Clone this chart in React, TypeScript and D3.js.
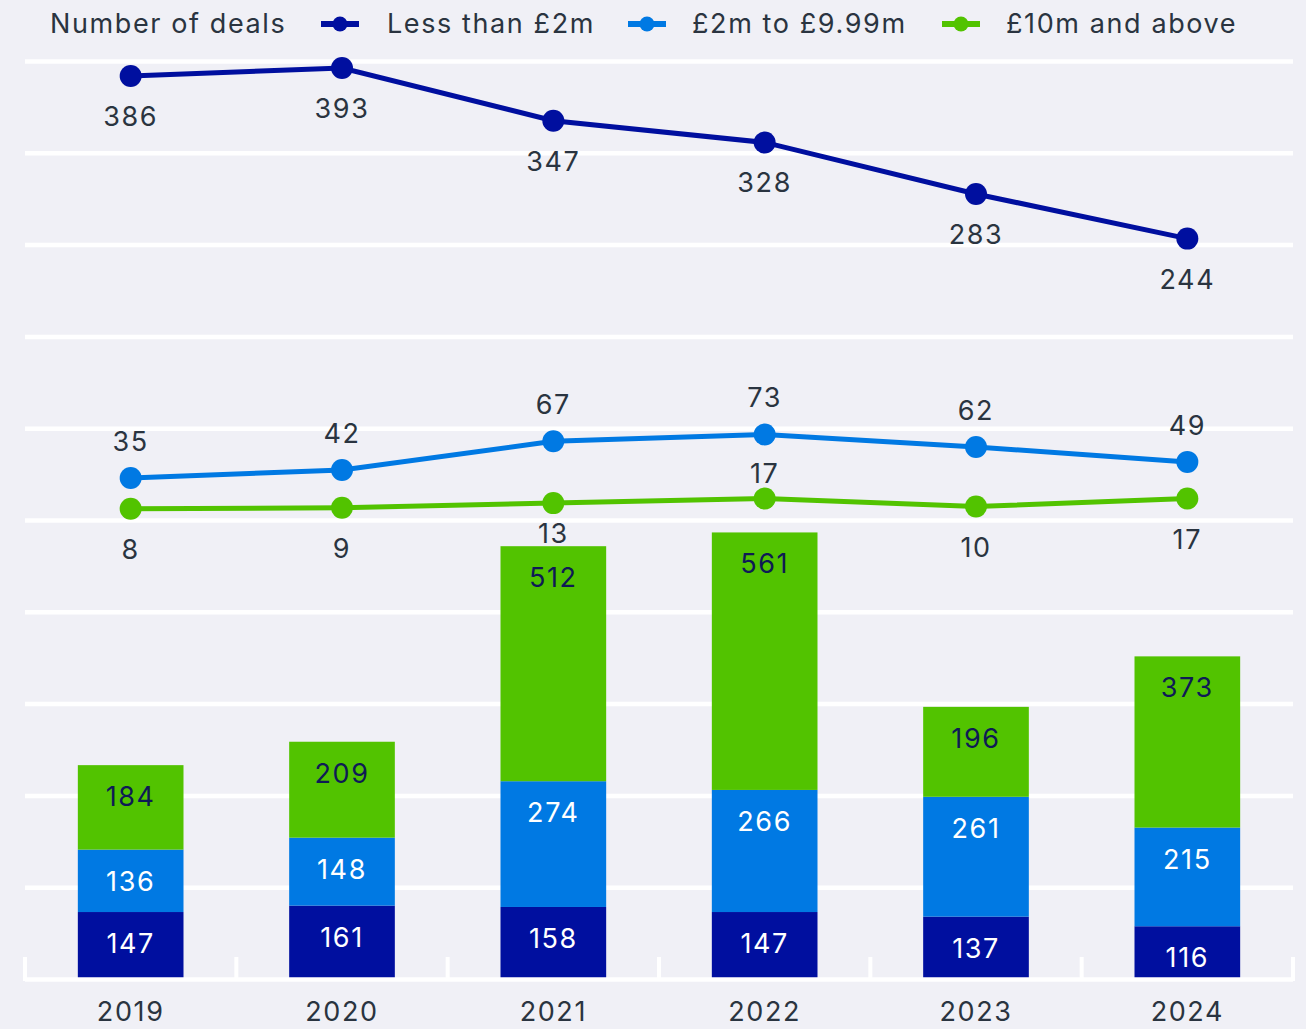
import { useEffect, useRef } from "react";
import * as d3 from "d3";

const years = ["2019", "2020", "2021", "2022", "2023", "2024"];

// number of deals (lines)
const dealsSmall = [386, 393, 347, 328, 283, 244];
const dealsMid = [35, 42, 67, 73, 62, 49];
const dealsLarge = [8, 9, 13, 17, 10, 17];

// value of deals (stacked bars)
const valueSmall = [147, 161, 158, 147, 137, 116];
const valueMid = [136, 148, 274, 266, 261, 215];
const valueLarge = [184, 209, 512, 561, 196, 373];

const seriesNames = ["Less than £2m", "£2m to £9.99m", "£10m and above"];
const legendTitle = "Number of deals";

const barTicks = [200, 400, 600, 800, 1000, 1200, 1400, 1600, 1800, 2000];

const NAVY = "#000f9f";
const BLUE = "#0079e3";
const GREEN = "#52c300";
const BG = "#f0f0f6";
const TEXT = "#2a3440";
const FONT = "Inter, 'Noto Sans', sans-serif";
const FSIZE = 27;
const SPACING = 1.6;

const App = () => {
  const svgRef = useRef<SVGSVGElement | null>(null);

  useEffect(() => {
    document.body.style.margin = "0";
    const width = 1306;
    const height = 1029;
    const svg = d3.select(svgRef.current);
    svg.selectAll("*").remove();
    svg.attr("width", width).attr("height", height);

    svg.append("rect").attr("width", width).attr("height", height).attr("fill", BG);

    const x = d3.scaleBand<string>()
      .domain(years)
      .range([25, 1293])
      .paddingInner(0.5)
      .paddingOuter(0.25);

    const yBar = d3.scaleLinear().domain([0, 2000]).range([979.5, 61.5]);
    const yLine = d3.scaleLinear().domain([0, 400]).range([518, 60]);

    const styleText = (sel: any) =>
      sel
        .attr("font-family", FONT)
        .attr("font-size", FSIZE)
        .attr("letter-spacing", SPACING);

    // gridlines
    svg.append("g")
      .selectAll("line")
      .data(barTicks)
      .enter()
      .append("line")
      .attr("x1", 25)
      .attr("x2", 1293)
      .attr("y1", d => yBar(d))
      .attr("y2", d => yBar(d))
      .attr("stroke", "#ffffff")
      .attr("stroke-width", 4.5);

    // stacked bars
    const rows = years.map((year, i) => ({
      year,
      small: valueSmall[i],
      mid: valueMid[i],
      large: valueLarge[i]
    }));
    const stack = d3.stack<any>().keys(["small", "mid", "large"]);
    const stacked = stack(rows);
    const barColors = [NAVY, BLUE, GREEN];
    const barText = ["#ffffff", "#ffffff", "#0e1a55"];

    stacked.forEach((layer, li) => {
      const g = svg.append("g");
      g.selectAll("rect")
        .data(layer)
        .enter()
        .append("rect")
        .attr("x", d => x(d.data.year)!)
        .attr("width", x.bandwidth())
        .attr("y", d => yBar(d[1]))
        .attr("height", d => yBar(d[0]) - yBar(d[1]))
        .attr("fill", barColors[li]);
      g.selectAll("text")
        .data(layer)
        .enter()
        .append("text")
        .attr("x", d => x(d.data.year)! + x.bandwidth() / 2)
        .attr("y", d => yBar(d[1]) + 41)
        .attr("text-anchor", "middle")
        .call(styleText)
        .attr("fill", barText[li])
        .text(d => d[1] - d[0]);
    });

    // bottom axis
    const axis = svg.append("g");
    axis.append("line")
      .attr("x1", 25)
      .attr("x2", 1293)
      .attr("y1", 979.5)
      .attr("y2", 979.5)
      .attr("stroke", "#ffffff")
      .attr("stroke-width", 4.5);
    const bounds = years.map(y => x(y)! - x.step() * 0.25).concat([1293]);
    axis.selectAll("line.tick")
      .data(bounds)
      .enter()
      .append("line")
      .attr("class", "tick")
      .attr("x1", d => d)
      .attr("x2", d => d)
      .attr("y1", 957)
      .attr("y2", 981)
      .attr("stroke", "#ffffff")
      .attr("stroke-width", 4);
    axis.selectAll("text")
      .data(years)
      .enter()
      .append("text")
      .attr("x", d => x(d)! + x.bandwidth() / 2)
      .attr("y", 1021)
      .attr("text-anchor", "middle")
      .call(styleText)
      .attr("fill", TEXT)
      .text(d => d);

    // lines
    const cx = (i: number) => x(years[i])! + x.bandwidth() / 2;
    const line = d3.line<number>()
      .x((_, i) => cx(i))
      .y(d => yLine(d));

    const lineSeries = [
      { values: dealsSmall, color: NAVY },
      { values: dealsMid, color: BLUE },
      { values: dealsLarge, color: GREEN }
    ];

    lineSeries.forEach(s => {
      const g = svg.append("g");
      g.append("path")
        .attr("d", line(s.values))
        .attr("fill", "none")
        .attr("stroke", s.color)
        .attr("stroke-width", 5);
      g.selectAll("circle")
        .data(s.values)
        .enter()
        .append("circle")
        .attr("cx", (_, i) => cx(i))
        .attr("cy", d => yLine(d))
        .attr("r", 11)
        .attr("fill", s.color);
    });

    const addLabel = (xp: number, yc: number, txt: string | number) => {
      svg.append("text")
        .attr("x", xp)
        .attr("y", yc + 10)
        .attr("text-anchor", "middle")
        .call(styleText)
        .attr("fill", TEXT)
        .text(txt);
    };

    dealsSmall.forEach((v, i) => addLabel(cx(i), yLine(v) + 40, v));
    dealsMid.forEach((v, i) => addLabel(cx(i), yLine(v) - 37, v));
    dealsLarge.forEach((v, i) => {
      const py = yLine(v);
      const barTop = yBar(valueSmall[i] + valueMid[i] + valueLarge[i]);
      const below = Math.min(py + 40, barTop - 13);
      if (below < py + 28) addLabel(cx(i), py - 26, v);
      else addLabel(cx(i), below, v);
    });

    // legend
    const legend = svg.append("g");
    legend.append("text")
      .attr("x", 50)
      .attr("y", 33)
      .call(styleText)
      .attr("fill", TEXT)
      .text(legendTitle);
    const markerX = [321, 628, 942];
    const textX = [387, 692, 1006];
    seriesNames.forEach((name, i) => {
      const c = lineSeries[i].color;
      legend.append("line")
        .attr("x1", markerX[i])
        .attr("x2", markerX[i] + 38)
        .attr("y1", 24)
        .attr("y2", 24)
        .attr("stroke", c)
        .attr("stroke-width", 6);
      legend.append("circle")
        .attr("cx", markerX[i] + 19)
        .attr("cy", 24)
        .attr("r", 7.5)
        .attr("fill", c);
      legend.append("text")
        .attr("x", textX[i])
        .attr("y", 33)
        .call(styleText)
        .attr("fill", TEXT)
        .text(name);
    });
  }, []);

  return <svg ref={svgRef} style={{ display: "block" }}></svg>;
};

export default App;
